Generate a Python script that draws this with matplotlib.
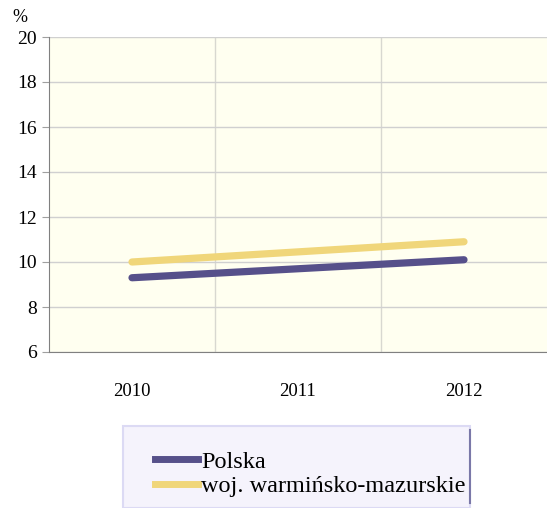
import matplotlib.pyplot as plt
from matplotlib.patches import Rectangle
from matplotlib.lines import Line2D

years = ["2010", "2011", "2012"]
polska = [9.3, 9.7, 10.1]
warm_maz = [10.0, 10.45, 10.9]
labels = ["Polska", "woj. warmińsko-mazurskie"]

purple = "#56508a"
yellow = "#f0d67a"

plt.rcParams["font.family"] = ["Liberation Serif", "DejaVu Serif"]

fig = plt.figure(figsize=(5.47, 5.08), dpi=100)
ax = fig.add_axes([49 / 547, 156 / 508, 498 / 547, 315 / 508])
ax.set_facecolor("#fffff0")

x = range(len(years))
ax.plot(x, polska, color=purple, lw=5.2, solid_capstyle="round", zorder=3)
ax.plot(x, warm_maz, color=yellow, lw=5.2, solid_capstyle="round", zorder=3)

ax.set_xlim(-0.5, 2.5)
ax.set_ylim(6, 20)
ax.set_yticks(range(6, 21, 2))
ax.set_xticks(x)
ax.set_xticklabels(years)
ax.set_xticks([0.5, 1.5], minor=True)
ax.grid(True, which="minor", axis="x", color="#d8d8d0", lw=1)
ax.grid(True, which="major", axis="y", color="#d0d0d0", lw=1)
ax.tick_params(axis="x", which="both", length=0, labelsize=13.5, pad=22)
ax.tick_params(axis="y", length=5, color="#a0a0a0", labelsize=14, pad=4)
for s in ["top", "right"]:
    ax.spines[s].set_visible(False)
ax.spines["left"].set_color("#808080")
ax.spines["bottom"].set_color("#808080")

fig.text(20 / 547, 1 - 18 / 508, "%", fontsize=13, ha="center", va="center")

# legend box
fig.patches.append(Rectangle((123 / 547, 0), 347 / 547, 82 / 508,
                             transform=fig.transFigure, facecolor="#f5f3fc",
                             edgecolor="#dcdaf4", lw=1.5))
fig.lines.append(Line2D([470 / 547, 470 / 547], [5 / 508, 78 / 508],
                        transform=fig.transFigure, color="#7a78a8", lw=1.5))
handles = [Line2D([], [], color=purple, lw=5), Line2D([], [], color=yellow, lw=5)]
fig.legend(handles, labels, loc="center left", bbox_to_anchor=(155 / 547, 1 - 474 / 508),
           frameon=False, fontsize=17.5, handlelength=1.75, handletextpad=0.15,
           labelspacing=0.1, borderaxespad=0, borderpad=0)

plt.savefig("out.png", dpi=100)
